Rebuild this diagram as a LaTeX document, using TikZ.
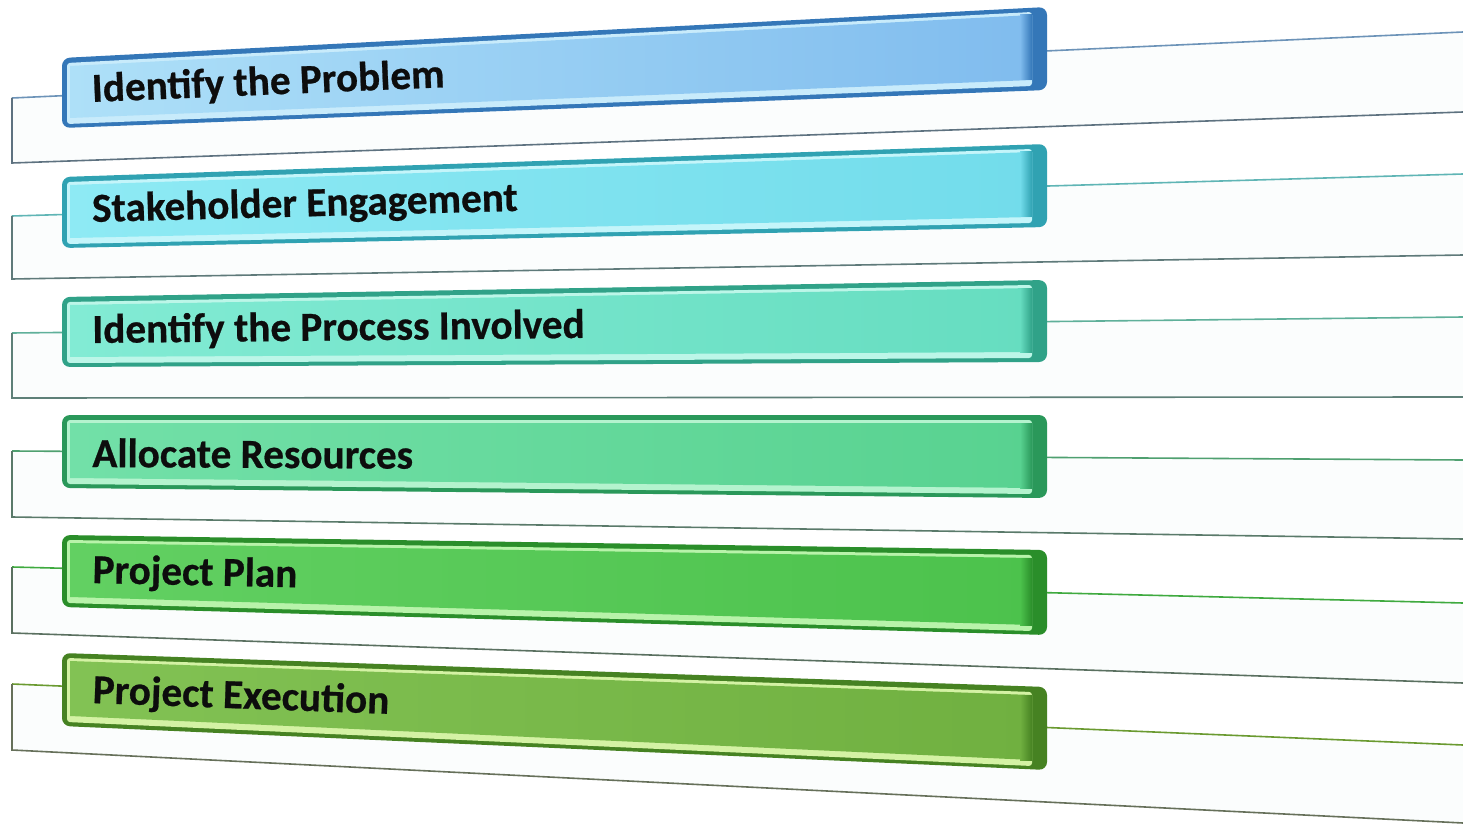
\documentclass[tikz,border=0pt]{standalone}
\usepackage{fontspec}
\setmainfont{Carlito}[BoldFeatures={FakeBold=0.6}]
\definecolor{shelfbg}{HTML}{FBFDFD}
% bar colours
\definecolor{b1dark}{HTML}{3477B8}\definecolor{b1hi}{HTML}{C8EBFB}\definecolor{b1left}{HTML}{AEE0F8}\definecolor{b1right}{HTML}{80BCEE}
\definecolor{b2dark}{HTML}{30A2B2}\definecolor{b2hi}{HTML}{C4F5FA}\definecolor{b2left}{HTML}{8EEAF4}\definecolor{b2right}{HTML}{72DCEB}
\definecolor{b3dark}{HTML}{30A288}\definecolor{b3hi}{HTML}{BCF6E8}\definecolor{b3left}{HTML}{82EBD4}\definecolor{b3right}{HTML}{66DDC0}
\definecolor{b4dark}{HTML}{2A985A}\definecolor{b4hi}{HTML}{B4F3CE}\definecolor{b4left}{HTML}{72E0A8}\definecolor{b4right}{HTML}{58D290}
\definecolor{b5dark}{HTML}{2A8E2A}\definecolor{b5hi}{HTML}{B8F3AA}\definecolor{b5left}{HTML}{62D062}\definecolor{b5right}{HTML}{4CC24C}
\definecolor{b6dark}{HTML}{468222}\definecolor{b6hi}{HTML}{D4F2A4}\definecolor{b6left}{HTML}{82C254}\definecolor{b6right}{HTML}{70B040}
% shelf line colours
\definecolor{s1top}{HTML}{6C93B8}\definecolor{s1bot}{HTML}{5E7280}
\definecolor{s2top}{HTML}{5FB5B5}\definecolor{s2bot}{HTML}{5F7A7A}
\definecolor{s3top}{HTML}{5FB09A}\definecolor{s3bot}{HTML}{5E8078}
\definecolor{s4top}{HTML}{4FA070}\definecolor{s4bot}{HTML}{5A7A6A}
\definecolor{s5top}{HTML}{3FAA3F}\definecolor{s5bot}{HTML}{5A7060}
\definecolor{s6top}{HTML}{6A9A30}\definecolor{s6bot}{HTML}{66705A}
\newcommand\drawshelf[5]{% topL topR botL botR idx
  \fill[shelfbg] (12,#1) -- (1463,#2) -- (1463,#4) -- (12,#3) -- cycle;
  \draw[shelfline, s#5top] (12,#1) -- (1463,#2);
  \draw[shelfline, s#5bot] (12,#1) -- (12,#3) -- (1463,#4);
}
\newcommand\drawbar[5]{% TL BL TR BR idx
  \fill[b#5dark, rounded corners=4pt] (62,#1) -- (1047,#3) -- (1047,#4) -- (62,#2) -- cycle;
  \fill[b#5hi, rounded corners=1.5pt] (67,{#1+5}) -- (1032,{#3+5}) -- (1032,{#4-4}) -- (67,{#2-4}) -- cycle;
  \shade[left color=b#5left, right color=b#5right] (70,{#1+8}) -- (1032,{#3+8}) -- (1032,{#4-10}) -- (70,{#2-10}) -- cycle;
  \shade[left color=b#5right, right color=b#5dark] (1020,{#3+8}) -- (1032,{#3+8}) -- (1032,{#4-10}) -- (1020,{#4-10}) -- cycle;
}
\begin{document}
\begin{tikzpicture}[x=0.5pt,y=-0.5pt,
  lbl/.style={font=\fontsize{20.6}{24}\selectfont\bfseries, text=black!95, inner sep=0pt, anchor=base west},
  shelfline/.style={line width=0.8pt}]
\fill[white] (0,0) rectangle (1463,824);
\useasboundingbox (0,0) rectangle (1463,824);
% shelves
\drawshelf{98}{32}{163}{112}{1}
\drawshelf{216}{174}{279}{255}{2}
\drawshelf{333}{317}{398}{397}{3}
\drawshelf{451}{460}{517}{539}{4}
\drawshelf{567}{603}{633}{683}{5}
\drawshelf{684}{745}{750}{823}{6}
% bars
\drawbar{58}{128}{7}{90}{1}
\drawbar{177}{248}{144}{227}{2}
\drawbar{297}{367}{280}{362}{3}
\drawbar{415}{488}{415}{498}{4}
\drawbar{535}{607}{550}{635}{5}
\drawbar{653}{726}{687}{770}{6}
% labels
\node[lbl, rotate=2.4]  (t1) at (92,102) {Identify the Problem};
\node[lbl, rotate=1.5]  (t2) at (92,222) {Stakeholder Engagement};
\node[lbl, rotate=0.6]  (t3) at (92,343) {Identify the Process Involved};
\node[lbl, rotate=-0.3] (t4) at (92,467) {Allocate Resources};
\node[lbl, rotate=-1.2] (t5) at (92,583) {Project Plan};
\node[lbl, rotate=-2.1] (t6) at (92,703) {Project Execution};
\end{tikzpicture}
\end{document}
